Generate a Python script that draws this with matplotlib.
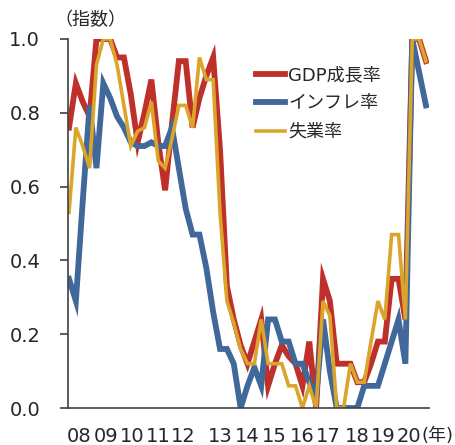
import matplotlib
matplotlib.use("Agg")
import matplotlib.pyplot as plt
import matplotlib.transforms as mtransforms

plt.rcParams['font.family'] = ['DejaVu Sans', 'Noto Sans CJK JP']

# ---- data (quarterly index, 2008Q1 .. 2021Q1) ----
gdp = [0.76, 0.88, 0.83, 0.79, 1.0, 1.0, 1.0, 0.95, 0.95, 0.85,
       0.72, 0.80, 0.89, 0.72, 0.59, 0.77, 0.94, 0.94, 0.76, 0.84,
       0.90, 0.95, 0.70, 0.33, 0.24, 0.17, 0.12, 0.18, 0.24, 0.06,
       0.12, 0.17, 0.14, 0.12, 0.06, 0.18, 0.0, 0.35, 0.29, 0.12,
       0.12, 0.12, 0.07, 0.07, 0.12, 0.18, 0.18, 0.35, 0.35, 0.24,
       1.0, 1.0, 0.94]
inflation = [0.35, 0.29, 0.56, 0.82, 0.65, 0.88, 0.84, 0.79, 0.76, 0.72,
             0.71, 0.71, 0.72, 0.71, 0.71, 0.76, 0.65, 0.54, 0.47, 0.47,
             0.38, 0.26, 0.16, 0.16, 0.12, 0.0, 0.06, 0.11, 0.06, 0.24,
             0.24, 0.18, 0.18, 0.12, 0.12, 0.07, 0.03, 0.24, 0.10, 0.0,
             0.0, 0.0, 0.0, 0.06, 0.06, 0.06, 0.12, 0.18, 0.24, 0.12,
             1.0, 0.91, 0.82]
unemployment = [0.53, 0.76, 0.71, 0.65, 0.93, 1.0, 1.0, 0.93, 0.82, 0.71,
                0.75, 0.76, 0.83, 0.67, 0.65, 0.73, 0.82, 0.82, 0.76, 0.95,
                0.89, 0.89, 0.53, 0.29, 0.23, 0.16, 0.12, 0.12, 0.24, 0.12,
                0.12, 0.12, 0.06, 0.06, 0.0, 0.06, 0.0, 0.29, 0.25, 0.0,
                0.0, 0.12, 0.07, 0.07, 0.18, 0.29, 0.24, 0.47, 0.47, 0.24,
                1.0, 1.0, 0.94]
series_names = ['GDP成長率', 'インフレ率', '失業率']
year_labels = ['08', '09', '10', '11', '12', '13', '14', '15', '16', '17', '18', '19', '20']
y_ticks = [0.0, 0.2, 0.4, 0.6, 0.8, 1.0]

# ---- layout ----
W, H = 456, 445
fig = plt.figure(figsize=(W / 100, H / 100), dpi=100)
ax = fig.add_axes([68 / W, 37 / H, 361 / W, 369 / H])

x = list(range(len(gdp)))
colors = ['#C0302A', '#41689A', '#DAA52A']
widths = [4.2, 4.2, 2.6]
for vals, name, c, lw in zip([gdp, inflation, unemployment], series_names, colors, widths):
    ax.plot(x, vals, color=c, lw=lw, label=name, solid_joinstyle='miter')

ax.set_xlim(-0.146, 52.44)
ax.set_ylim(0, 1.0)

for s in ['top', 'right']:
    ax.spines[s].set_visible(False)
for s in ['left', 'bottom']:
    ax.spines[s].set_color('#404040')
    ax.spines[s].set_linewidth(1.2)

ax.set_yticks(y_ticks)
ax.set_yticklabels([f'{v:.1f}' for v in y_ticks])
ax.tick_params(axis='y', direction='out', length=6, width=1.2, color='#404040',
               pad=14, labelsize=14, labelcolor='#262626')
ax.set_xticks([])

# year labels placed along the bottom (pixel positions of the reference)
label_px = [79, 106, 132.5, 158, 183, 220, 247, 274, 302, 328, 357, 383, 409]
trans = mtransforms.blended_transform_factory(ax.transData, ax.transAxes)
for lab, px in zip(year_labels, label_px):
    xi = (px - 69) / 6.865
    ax.text(xi, -0.091, lab, transform=trans, ha='center', va='baseline',
            fontsize=14, color='#262626')

fig.text(422 / W, 1 - 441 / H, '(年)', ha='left', va='baseline',
         fontsize=13, color='#262626')
fig.text(54 / W, 1 - 20 / H, '（指数）', ha='left', va='center',
         fontsize=13, color='#262626')

leg = ax.legend(loc='upper left', bbox_to_anchor=(256 / W, 1 - 66 / H),
                bbox_transform=fig.transFigure, frameon=False, fontsize=13,
                handlelength=1.6, handletextpad=0.2, labelspacing=0.58,
                borderpad=0, borderaxespad=0)
for t in leg.get_texts():
    t.set_color('#262626')

fig.savefig('out.png', dpi=100)
